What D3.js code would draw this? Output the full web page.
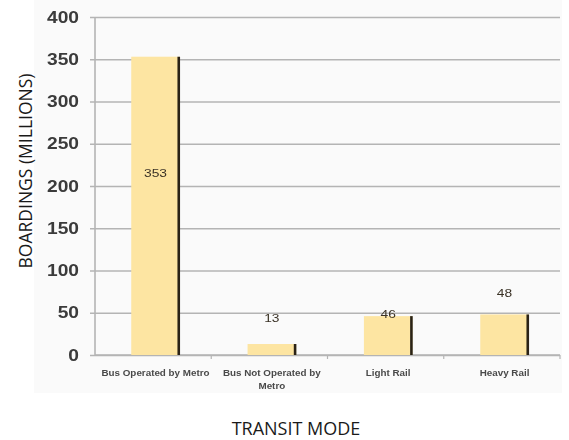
<!DOCTYPE html>
<html>
<head>
<meta charset="utf-8">
<script src="https://cdn.jsdelivr.net/npm/d3@7"></script>
<style>
  html, body { margin: 0; padding: 0; background: #fff; }
  svg { display: block; }
</style>
</head>
<body>
<svg id="chart" width="569" height="440"></svg>
<script>
// Annual boardings by transit mode (millions)
const modes = ["Bus Operated by Metro", "Bus Not Operated by Metro", "Light Rail", "Heavy Rail"];
const modeLines = [["Bus Operated by Metro"], ["Bus Not Operated by", "Metro"], ["Light Rail"], ["Heavy Rail"]];
const boardings = [353, 13, 46, 48];
const yTicks = [0, 50, 100, 150, 200, 250, 300, 350, 400];

const svg = d3.select("#chart");

// layout
const plot = { left: 95, right: 560, top: 17, bottom: 355 };
const stretch = 1.2;                       // chart text is drawn slightly wide
const labelNudge = [120, -22, 2, -17];     // value label offset from bar top

const x = d3.scaleBand()
  .domain(modes)
  .range([plot.left + 2.5, plot.right + 2.5])
  .paddingInner(0.583)
  .paddingOuter(0.29);

const y = d3.scaleLinear()
  .domain([0, 400])
  .range([plot.bottom, plot.top]);

// soft panel behind the chart
svg.append("rect")
  .attr("x", 34).attr("y", 0)
  .attr("width", 528).attr("height", 393)
  .attr("fill", "#fafafa");

const defs = svg.append("defs");
defs.append("filter").attr("id", "soft")
  .append("feGaussianBlur").attr("stdDeviation", 0.5);

const g = svg.append("g").attr("filter", "url(#soft)");

// horizontal gridlines + y tick labels
const yAxis = d3.axisLeft(y)
  .tickValues(yTicks)
  .tickSize(-(plot.right - plot.left + 5))
  .tickFormat(d3.format("d"));

const yg = g.append("g")
  .attr("transform", `translate(${plot.left - 5},0)`)
  .call(yAxis);
yg.select(".domain").remove();
yg.selectAll(".tick line")
  .attr("stroke", "#b4b4b4")
  .attr("stroke-width", 1.6);
yg.selectAll(".tick text")
  .attr("x", 0)
  .attr("transform", `translate(-11,0) scale(${stretch},1)`)
  .attr("font-family", "Liberation Sans, Arial, sans-serif")
  .attr("font-size", 16)
  .attr("font-weight", "bold")
  .attr("fill", "#3a3a3a");

// vertical axis line
g.append("line")
  .attr("x1", plot.left).attr("x2", plot.left)
  .attr("y1", plot.top).attr("y2", plot.bottom)
  .attr("stroke", "#b4b4b4").attr("stroke-width", 1.6);

// x axis with small ticks at category boundaries
const step = (plot.right - plot.left) / modes.length;
const xg = g.append("g").attr("transform", `translate(0,${plot.bottom})`);
xg.append("line")
  .attr("x1", plot.left).attr("x2", plot.right)
  .attr("stroke", "#b4b4b4").attr("stroke-width", 1.6);
xg.selectAll("line.bound")
  .data(modes)
  .join("line")
  .attr("class", "bound")
  .attr("x1", (d, i) => plot.left + step * (i + 1))
  .attr("x2", (d, i) => plot.left + step * (i + 1))
  .attr("y1", 0).attr("y2", 4)
  .attr("stroke", "#b4b4b4").attr("stroke-width", 1.2);

// bars
const bars = g.append("g");
bars.selectAll("rect")
  .data(boardings)
  .join("rect")
  .attr("x", (d, i) => x(modes[i]))
  .attr("y", d => y(d))
  .attr("width", x.bandwidth())
  .attr("height", d => y(0) - y(d))
  .attr("fill", "#fde5a2");

// dark edge along the right side of each bar
bars.selectAll("line")
  .data(boardings)
  .join("line")
  .attr("x1", (d, i) => x(modes[i]) + x.bandwidth() - 1)
  .attr("x2", (d, i) => x(modes[i]) + x.bandwidth() - 1)
  .attr("y1", d => y(d))
  .attr("y2", y(0))
  .attr("stroke", "#2a2418")
  .attr("stroke-width", 2.6);

// value labels
g.append("g").selectAll("text")
  .data(boardings)
  .join("text")
  .attr("transform", (d, i) =>
    `translate(${x(modes[i]) + x.bandwidth() / 2},${y(d) + labelNudge[i]}) scale(${stretch},1)`)
  .attr("text-anchor", "middle")
  .attr("font-family", "Liberation Sans, Arial, sans-serif")
  .attr("font-size", 11.5)
  .attr("fill", "#3a3226")
  .text(d => d);

// category labels
const cat = g.append("g").selectAll("text")
  .data(modeLines)
  .join("text")
  .attr("transform", (d, i) =>
    `translate(${x(modes[i]) + x.bandwidth() / 2},376) scale(${stretch},1)`)
  .attr("text-anchor", "middle")
  .attr("font-family", "Liberation Sans, Arial, sans-serif")
  .attr("font-size", 8.2)
  .attr("font-weight", "bold")
  .attr("fill", "#4a4a4a");
cat.selectAll("tspan")
  .data(d => d)
  .join("tspan")
  .attr("x", 0)
  .attr("dy", (d, j) => j === 0 ? 0 : 13)
  .text(d => d);

// axis titles
svg.append("text")
  .attr("transform", "translate(32,171) rotate(-90)")
  .attr("text-anchor", "middle")
  .attr("font-family", "Open Sans, sans-serif")
  .attr("font-size", 17.5)
  .attr("fill", "#1a1a1a")
  .text("BOARDINGS (MILLIONS)");

svg.append("text")
  .attr("x", 296)
  .attr("y", 435)
  .attr("text-anchor", "middle")
  .attr("font-family", "Open Sans, sans-serif")
  .attr("font-size", 18)
  .attr("fill", "#1a1a1a")
  .text("TRANSIT MODE");
</script>
</body>
</html>
